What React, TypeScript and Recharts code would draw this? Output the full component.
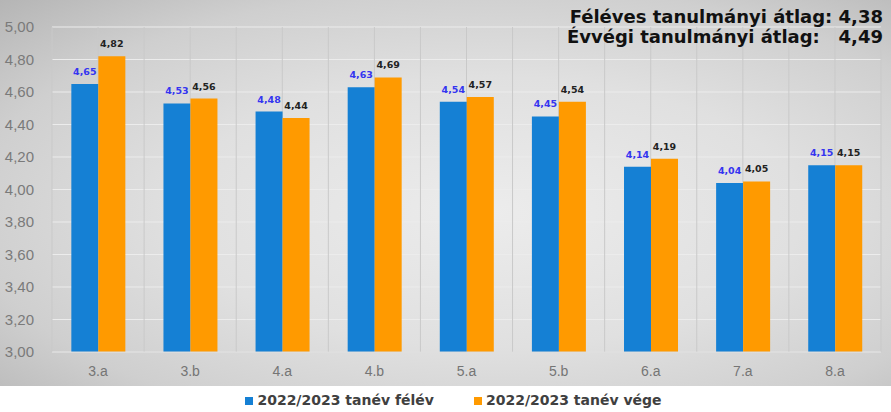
import React from "react";
import {
  BarChart,
  Bar,
  XAxis,
  YAxis,
  CartesianGrid,
  Legend,
  LabelList,
} from "recharts";

const classes = ["3.a", "3.b", "4.a", "4.b", "5.a", "5.b", "6.a", "7.a", "8.a"];
const halfYear = [4.65, 4.53, 4.48, 4.63, 4.54, 4.45, 4.14, 4.04, 4.15];
const yearEnd = [4.82, 4.56, 4.44, 4.69, 4.57, 4.54, 4.19, 4.05, 4.15];
const yTicks = [3.0, 3.2, 3.4, 3.6, 3.8, 4.0, 4.2, 4.4, 4.6, 4.8, 5.0];

const seriesNames = ["2022/2023 tanév félév", "2022/2023 tanév vége"];
const summaryLines = ["Féléves tanulmányi átlag: 4,38", "Évvégi tanulmányi átlag:   4,49"];

const data = classes.map((c, i) => ({
  name: c,
  felev: halfYear[i],
  vege: yearEnd[i],
}));

const fmt = (v: number) => v.toFixed(2).replace(".", ",");

const W = 891;
const H = 412;

export default function App() {
  // vertical lines at category edges and centres, like the Excel original
  const vLines = ({ offset }: any) => {
    const pts: number[] = [];
    const step = offset.width / (classes.length * 2);
    for (let i = 0; i <= classes.length * 2; i++) pts.push(offset.left + i * step);
    return pts;
  };

  return (
    <div style={{ position: "absolute", left: 0, top: 0, width: W, height: H, background: "#fff" }}>
      {/* grey backdrop of the chart area */}
      <div
        style={{
          position: "absolute",
          left: 0,
          top: 0,
          width: W,
          height: 386,
          background:
            "radial-gradient(ellipse at 55% 55%, #ececec 0%, #e0e0e0 45%, #cfcfcf 75%, #b5b5b5 100%)",
        }}
      />
      <div style={{ position: "absolute", left: 0, top: 0 }}>
        <BarChart
          width={W}
          height={H}
          data={data}
          margin={{ top: 27, right: 10, left: 0, bottom: 4 }}
          barGap={0}
          barCategoryGap="21%"
        >
          <CartesianGrid horizontal={true} vertical={false} stroke="#ececec" />
          <CartesianGrid horizontal={false} vertical={true} stroke="#c9c9c9" verticalCoordinatesGenerator={vLines} />
          <XAxis
            dataKey="name"
            height={30}
            tickLine={false}
            axisLine={{ stroke: "#d9d9d9" }}
            tick={{ fill: "#757575", fontSize: 14, fontFamily: "Liberation Sans" }}
            tickMargin={8}
          />
          <YAxis
            width={52}
            domain={[3, 5]}
            ticks={yTicks}
            interval={0}
            tickLine={false}
            axisLine={false}
            tickFormatter={fmt}
            tick={{ fill: "#7a7a7a", fontSize: 15, fontFamily: "Liberation Sans" }}
            tickMargin={12}
          />
          <Legend
            verticalAlign="bottom"
            height={26}
            iconType="square"
            iconSize={8}
            wrapperStyle={{
              top: 392,
              bottom: "auto",
              fontFamily: "DejaVu Sans",
              fontWeight: "bold",
              fontSize: 14,
              paddingLeft: 18,
            }}
            formatter={(value: string, _e: any, index: number) => (
              <span style={{ color: "#404040", marginRight: index === 0 ? 30 : 0 }}>{value}</span>
            )}
          />
          <Bar dataKey="felev" name={seriesNames[0]} fill="#1580d4" isAnimationActive={false}>
            <LabelList
              dataKey="felev"
              position="top"
              offset={9}
              formatter={(v: number) => fmt(v)}
              style={{ fill: "#3535f0", fontSize: 9.5, fontWeight: "bold", fontFamily: "DejaVu Sans" }}
            />
          </Bar>
          <Bar dataKey="vege" name={seriesNames[1]} fill="#ff9a00" isAnimationActive={false}>
            <LabelList
              dataKey="vege"
              position="top"
              offset={9}
              formatter={(v: number) => fmt(v)}
              style={{ fill: "#222", fontSize: 9.5, fontWeight: "bold", fontFamily: "DejaVu Sans" }}
            />
          </Bar>
        </BarChart>
      </div>
      <div
        style={{
          position: "absolute",
          right: 8,
          top: 7,
          fontFamily: "DejaVu Sans",
          fontWeight: "bold",
          fontSize: 18,
          lineHeight: "20px",
          color: "#111",
          whiteSpace: "pre",
          textAlign: "right",
        }}
      >
        {summaryLines.map((l) => (
          <div key={l}>{l}</div>
        ))}
      </div>
    </div>
  );
}
